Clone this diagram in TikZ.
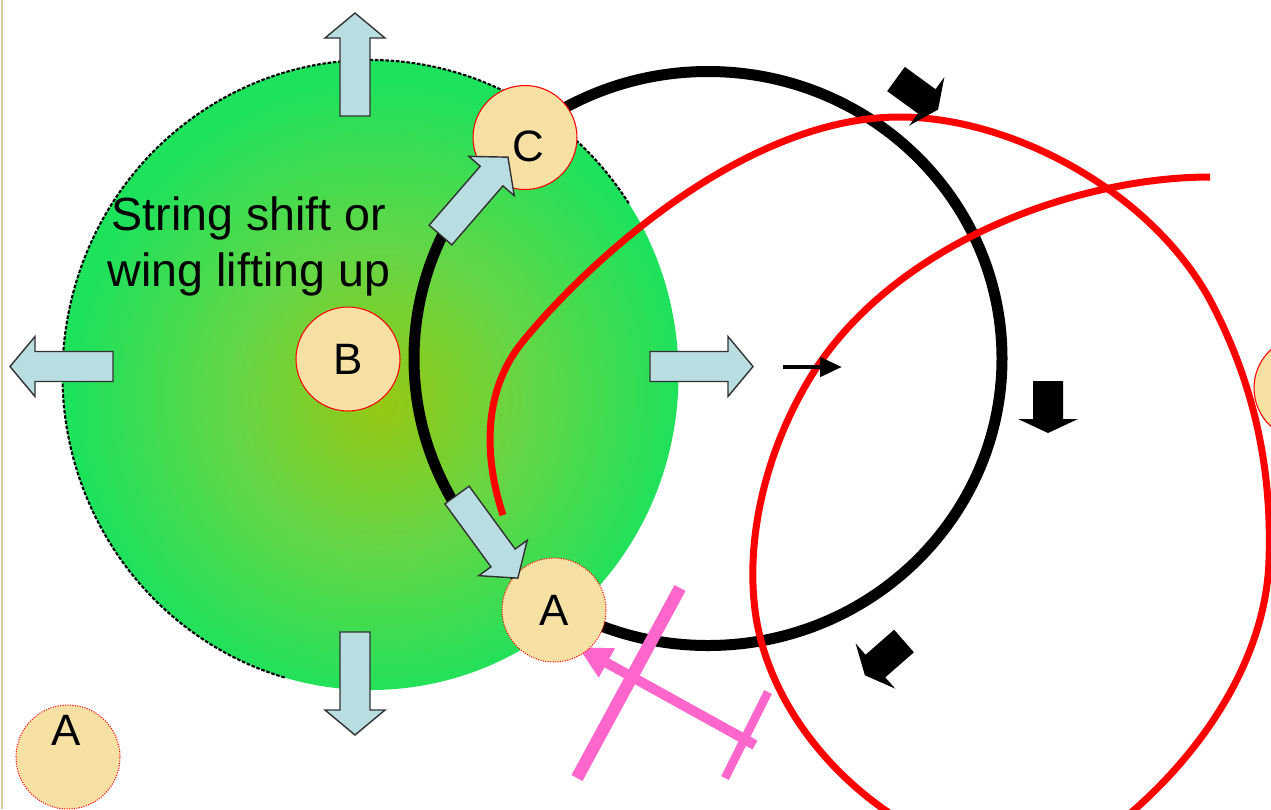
\documentclass[tikz,border=0pt]{standalone}
\usepackage{fontspec}
\setmainfont{Liberation Sans}
\usetikzlibrary{arrows.meta}
\definecolor{beige}{RGB}{246,224,164}
\definecolor{lblue}{RGB}{185,222,226}
\definecolor{pinkc}{RGB}{255,102,204}
\definecolor{ygreen}{RGB}{150,200,20}
\definecolor{mgreen}{RGB}{100,214,70}
\definecolor{egreen}{RGB}{28,226,92}
\definecolor{bordc}{RGB}{215,200,150}
\definecolor{arrline}{RGB}{50,50,50}
\pgfdeclareradialshading{greenball}{\pgfpoint{1bp}{-2.5bp}}{color(0bp)=(ygreen); color(12bp)=(mgreen); color(25bp)=(egreen); color(50bp)=(egreen)}
\begin{document}
\begin{tikzpicture}[x=0.02cm, y=-0.02cm,
  bluearr/.style={fill=lblue, draw=arrline, line width=0.8pt, line join=miter},
  blackarr/.style={fill=black},
  beigecirc/.style={circle, fill=beige, draw=red, line width=0.6pt, minimum size=2.08cm, inner sep=0pt},
  dotcirc/.style={beigecirc, dash pattern=on 0.6pt off 0.8pt},
  letter/.style={font=\fontsize{25}{30}\selectfont, inner sep=0pt},
  redcurve/.style={draw=red, line width=0.14cm},
  pics/bluearrow/.style={code={\path[bluearr] (0,-15) -- (78,-15) -- (78,-30) -- (103,0) -- (78,30) -- (78,15) -- (0,15) -- cycle;}},
  pics/blackarrow/.style={code={\path[blackarr] (0,-15) -- (38,-15) -- (38,-30) -- (52,0) -- (38,30) -- (38,15) -- (0,15) -- cycle;}}
]
\path[fill=white] (0,0) rectangle (1271,809);
\useasboundingbox (0,0) rectangle (1271,809);
\begin{scope}
\clip (0,0) rectangle (1271,809);
\draw[bordc, line width=0.06cm] (2,0) -- (2,809);
% green disc
\path[shading=greenball] (370.5,375) ellipse [x radius=308, y radius=315];
\draw[black, line width=1.2pt, dash pattern=on 2pt off 1pt] (370.5,375) ++(-33:308 and 315) arc[start angle=-33, end angle=-254, x radius=308, y radius=315];
% black circle
\draw[line width=0.22cm] (708,358.5) ellipse [x radius=294, y radius=287];
% red curves
\draw[redcurve] (503,515) .. controls (488,470) and (478,400) .. (520,345)
  .. controls (580,270) and (740,117) .. (900,117)
  .. controls (1010,117) and (1150,190) .. (1210,300)
  .. controls (1255,385) and (1272,470) .. (1269,560)
  .. controls (1266,660) and (1200,760) .. (1110,830);
\draw[redcurve] (1210,177) .. controls (1080,177) and (900,240) .. (815,370)
  .. controls (770,440) and (745,530) .. (755,610)
  .. controls (765,690) and (820,770) .. (900,820);
% black block arrows
\pic[rotate=-36] (bk1) at (896,79) {blackarrow};
\pic[rotate=-90] (bk2) at (1048,381) {blackarrow};
\pic[rotate=-138.8] (bk3) at (904,641) {blackarrow};
% small black arrow
\coordinate (sa1) at (783,367);
\coordinate (sa2) at (842,367);
\draw[line width=0.09cm, -{Triangle[length=0.44cm, width=0.38cm]}] (sa1) -- (sa2);
% pink
\coordinate (lb1) at (680,588);
\coordinate (lb2) at (577,778);
\coordinate (sb1) at (768,692);
\coordinate (sb2) at (725,778);
\coordinate (pt) at (755,745);
\coordinate (ph) at (578,647);
\draw[pinkc, line width=0.25cm] (lb1) -- (lb2);
\draw[pinkc, line width=0.17cm] (sb1) -- (sb2);
\draw[pinkc, line width=0.2cm, -{Triangle[length=0.66cm, width=0.62cm]}] (pt) -- (ph);
% beige circles
\node[beigecirc] (C) at (525,137.5) {};
\node[letter] (Cl) at (528,146) {C};
\node[beigecirc, letter, minimum size=2.08cm] (B) at (348,359) {B};
\node[dotcirc, letter, minimum size=2.08cm] (A1) at (554,610) {A};
\node[dotcirc] (A2) at (68,757) {};
\node[letter] (A2l) at (66,730) {A};
\node[beigecirc] (D) at (1306,388) {};
% light blue block arrows
\pic[rotate=90] (up) at (355,116) {bluearrow};
\pic[rotate=180] (left) at (113,366.5) {bluearrow};
\pic[rotate=0] (right) at (650,366.5) {bluearrow};
\pic[rotate=-90] (down) at (355,632) {bluearrow};
\pic[rotate=49.1] (toC) at (440.5,235) {bluearrow};
\pic[rotate=-53.8] (toA) at (457,495) {bluearrow};
% text
\node[font=\fontsize{26.5}{32.3}\selectfont, align=center, inner sep=0pt] (txt) at (249,246.5) {String shift or\\wing lifting up};
\end{scope}
\end{tikzpicture}
\end{document}
